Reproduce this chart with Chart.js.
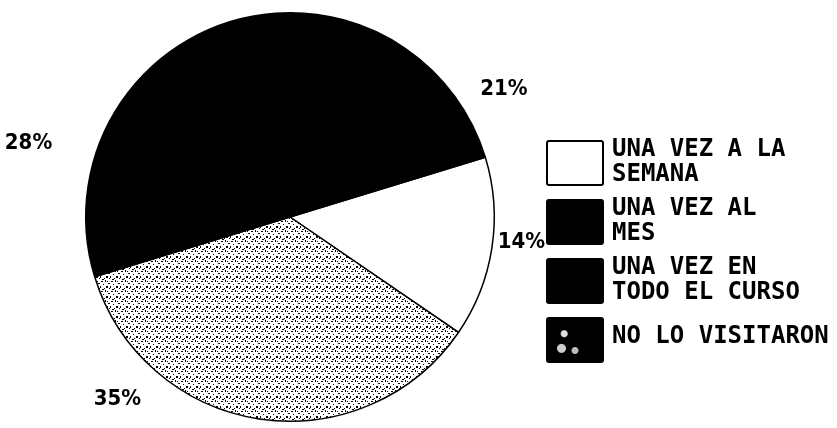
<!DOCTYPE html>
<html>
<head>
<meta charset="utf-8">
<script src="https://cdn.jsdelivr.net/npm/chart.js@4"></script>
<style>
  html, body { margin: 0; padding: 0; background: #fff; }
  #wrap { position: relative; width: 837px; height: 428px; }
  #legend { position: absolute; left: 546px; top: 140px; }
  .item { display: flex; align-items: flex-start; margin-bottom: 13px; }
  .swatch { width: 54px; height: 42px; border: 2px solid #000; border-radius: 3px; flex: none; }
  .text { margin-left: 8px; font: bold 24px "DejaVu Sans Mono", "Liberation Mono", monospace; line-height: 25px; color: #000; }
</style>
</head>
<body>
<div id="wrap">
  <canvas id="pie" width="837" height="428"></canvas>
  <div id="legend"></div>
</div>
<script>
// DATA
const categories = ["UNA VEZ A LA SEMANA", "NO LO VISITARON", "UNA VEZ AL MES", "UNA VEZ EN TODO EL CURSO"];
const values = [14, 35, 28, 21];
const percentLabels = ["14%", "35%", "28%", "21%"];
const legendLines = [["UNA VEZ A LA", "SEMANA"], ["NO LO VISITARON"], ["UNA VEZ AL", "MES"], ["UNA VEZ EN", "TODO EL CURSO"]];
const legendOrder = [0, 2, 3, 1];

// where the % labels sit (degrees off slice middle, radius factor)
const labelShift = [-2.5, 34.7, -18.7, 24.7];
const labelDist = [1.14, 1.23, 1.33, 1.22];

// speckle pattern for "no lo visitaron"
function speckle() {
  const c = document.createElement("canvas");
  c.width = 10; c.height = 10;
  const g = c.getContext("2d");
  g.fillStyle = "#fff";
  g.fillRect(0, 0, 10, 10);
  g.fillStyle = "#000";
  const dots = [[1,1,2,1],[5,0,1,2],[8,3,2,1],[3,4,1,1],[0,6,1,2],[6,6,2,2],[4,8,1,1],[9,8,1,1],[2,9,2,1],[7,1,1,1]];
  dots.forEach(d => g.fillRect(d[0], d[1], d[2], d[3]));
  return g.createPattern(c, "repeat");
}

const ctx = document.getElementById("pie").getContext("2d");
const colors = ["#fff", speckle(), "#000", "#000"];

const pctPlugin = {
  id: "pct",
  afterDraw(chart) {
    const c = chart.ctx;
    const meta = chart.getDatasetMeta(0);
    c.save();
    c.font = "bold 22px 'Liberation Sans Narrow', 'DejaVu Sans Condensed', sans-serif";
    c.fillStyle = "#000";
    c.textAlign = "center";
    c.textBaseline = "middle";
    meta.data.forEach((arc, i) => {
      const p = arc.getProps(["x", "y", "startAngle", "endAngle", "outerRadius"], true);
      const mid = (p.startAngle + p.endAngle) / 2 + labelShift[i] * Math.PI / 180;
      const r = p.outerRadius * labelDist[i];
      c.fillText(percentLabels[i], p.x + Math.cos(mid) * r, p.y + Math.sin(mid) * r);
    });
    c.restore();
  }
};

new Chart(ctx, {
  type: "pie",
  data: {
    labels: categories,
    datasets: [{
      data: values,
      backgroundColor: colors,
      borderColor: "#000",
      borderWidth: 1.5
    }]
  },
  options: {
    responsive: false,
    animation: false,
    rotation: 73,
    layout: { padding: { left: 85, right: 342, top: 12, bottom: 6 } },
    plugins: {
      legend: { display: false },
      tooltip: { enabled: false }
    }
  },
  plugins: [pctPlugin]
});

// LEGEND
const legend = document.getElementById("legend");
legendOrder.forEach(i => {
  const div = document.createElement("div");
  div.className = "item";
  const sw = document.createElement("div");
  sw.className = "swatch";
  if (i === 0) sw.style.background = "#fff";
  else if (i === 1) sw.style.background = "radial-gradient(circle at 30% 35%, #ddd 0 3px, transparent 4px), radial-gradient(circle at 25% 70%, #ccc 0 4px, transparent 5px), radial-gradient(circle at 50% 75%, #bbb 0 3px, transparent 4px), #000";
  else sw.style.background = "#000";
  const txt = document.createElement("div");
  txt.className = "text";
  txt.style.marginTop = legendLines[i].length > 1 ? "-4px" : "6px";
  txt.innerHTML = legendLines[i].join("<br>");
  div.appendChild(sw);
  div.appendChild(txt);
  legend.appendChild(div);
});
</script>
</body>
</html>
